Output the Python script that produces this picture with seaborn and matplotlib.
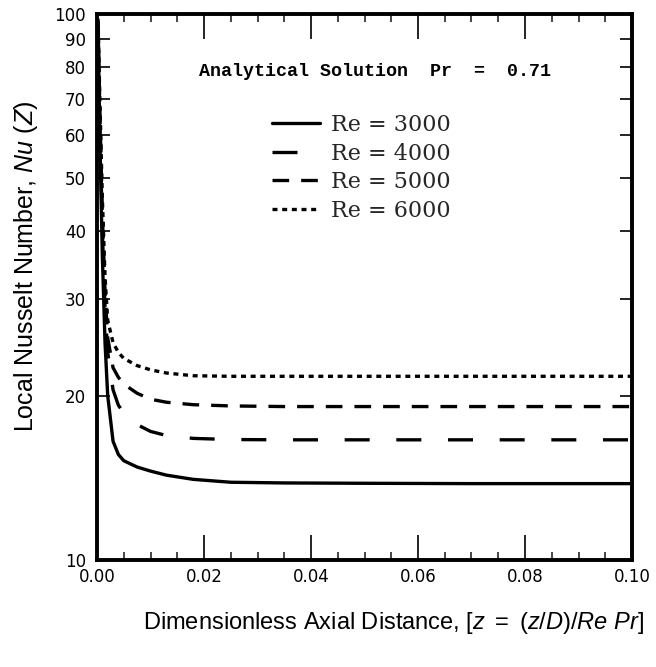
import matplotlib
matplotlib.use("Agg")
import matplotlib.pyplot as plt
import matplotlib.ticker as mticker
import seaborn as sns
import numpy as np

# ---- data ----
z = [0.0002, 0.0005, 0.001, 0.0015, 0.002, 0.003, 0.004, 0.005, 0.0075,
     0.01, 0.013, 0.018, 0.025, 0.035, 0.05, 0.07, 0.1]
nu_re3000 = [95, 62, 36, 25, 20.0, 16.5, 15.6, 15.2, 14.8, 14.55, 14.3, 14.05,
             13.88, 13.84, 13.82, 13.8, 13.8]
nu_re4000 = [96, 66, 40, 29, 24.0, 20.5, 19.2, 18.6, 17.7, 17.2, 16.9, 16.7,
             16.62, 16.6, 16.6, 16.6, 16.6]
nu_re5000 = [97, 69, 43, 31, 25.5, 22.5, 21.6, 21.0, 20.2, 19.7, 19.45, 19.25,
             19.15, 19.1, 19.1, 19.1, 19.1]
nu_re6000 = [98, 72, 46, 33, 27.5, 25.0, 24.0, 23.4, 22.7, 22.3, 22.0, 21.75,
             21.7, 21.7, 21.7, 21.7, 21.7]
series_labels = ["Re = 3000", "Re = 4000", "Re = 5000", "Re = 6000"]
y_ticks = [10, 20, 30, 40, 50, 60, 70, 80, 90, 100]
x_ticks = [0.00, 0.02, 0.04, 0.06, 0.08, 0.10]

sns.set_theme(style="ticks")
plt.rcParams["font.family"] = ["Liberation Sans", "DejaVu Sans"]
plt.rcParams["mathtext.fontset"] = "custom"
plt.rcParams["mathtext.it"] = "Liberation Sans:italic"
plt.rcParams["mathtext.rm"] = "Liberation Sans"

fig = plt.figure(figsize=(6.56, 6.67), dpi=100)
ax = fig.add_axes([97 / 656, 1 - 560 / 667, 535 / 656, 546 / 667])

lw = 2.4
styles = ["-", (0, (7.5, 8)), (0, (5, 3.6)), (0, (1.5, 1.4))]
for vals, lab, ls in zip([nu_re3000, nu_re4000, nu_re5000, nu_re6000],
                         series_labels, styles):
    sns.lineplot(x=z, y=vals, ax=ax, color="black", lw=lw, linestyle=ls,
                 label=lab)

ax.set_yscale("log")
ax.set_ylim(10, 100)
ax.set_xlim(0, 0.1)
ax.yaxis.set_major_locator(mticker.FixedLocator(y_ticks))
ax.yaxis.set_major_formatter(mticker.FixedFormatter([str(t) for t in y_ticks]))
ax.yaxis.set_minor_locator(mticker.NullLocator())
ax.xaxis.set_major_locator(mticker.FixedLocator(x_ticks))
ax.xaxis.set_major_formatter(mticker.FormatStrFormatter("%.2f"))
ax.xaxis.set_minor_locator(mticker.MultipleLocator(0.005))

for s in ax.spines.values():
    s.set_linewidth(2.8)
    s.set_color("black")
    s.set_visible(True)

ax.tick_params(axis="x", which="major", direction="in", length=18, width=1.2,
               top=True, bottom=True, labelsize=12, pad=6, colors="black")
ax.tick_params(axis="x", which="minor", direction="in", length=6, width=1.2,
               top=True, bottom=True)
ax.tick_params(axis="y", which="major", direction="in", length=9, width=1.2,
               left=True, right=True, labelsize=12, pad=8, colors="black")
for t in ax.get_xticklabels() + ax.get_yticklabels():
    t.set_family("DejaVu Sans")

ax.set_ylabel(r"Local Nusselt Number, $\mathit{Nu\ (Z)}$", fontsize=18,
              color="black")
ax.yaxis.set_label_coords(-0.1065, 0.5375)
ax.set_xlabel(r"Dimensionless Axial Distance, $\mathit{[z\ =\ (z/D)/Re\ Pr]}$",
              fontsize=17, color="black")
ax.xaxis.set_label_coords(0.555, -0.092)

ax.text((199 - 97) / 535, (560 - 72) / 546, "Analytical Solution  Pr  =  0.71",
        transform=ax.transAxes, ha="left", va="center", fontsize=13.2,
        family="Liberation Mono", fontweight="bold", color="black")

leg = ax.legend(loc="upper left", bbox_to_anchor=(0.327, 0.817), frameon=False,
                prop={"family": "DejaVu Serif", "size": 16},
                handlelength=2.15, handletextpad=0.5, labelspacing=0.3,
                borderpad=0, borderaxespad=0)

fig.savefig("out.png", dpi=100, facecolor="white")
